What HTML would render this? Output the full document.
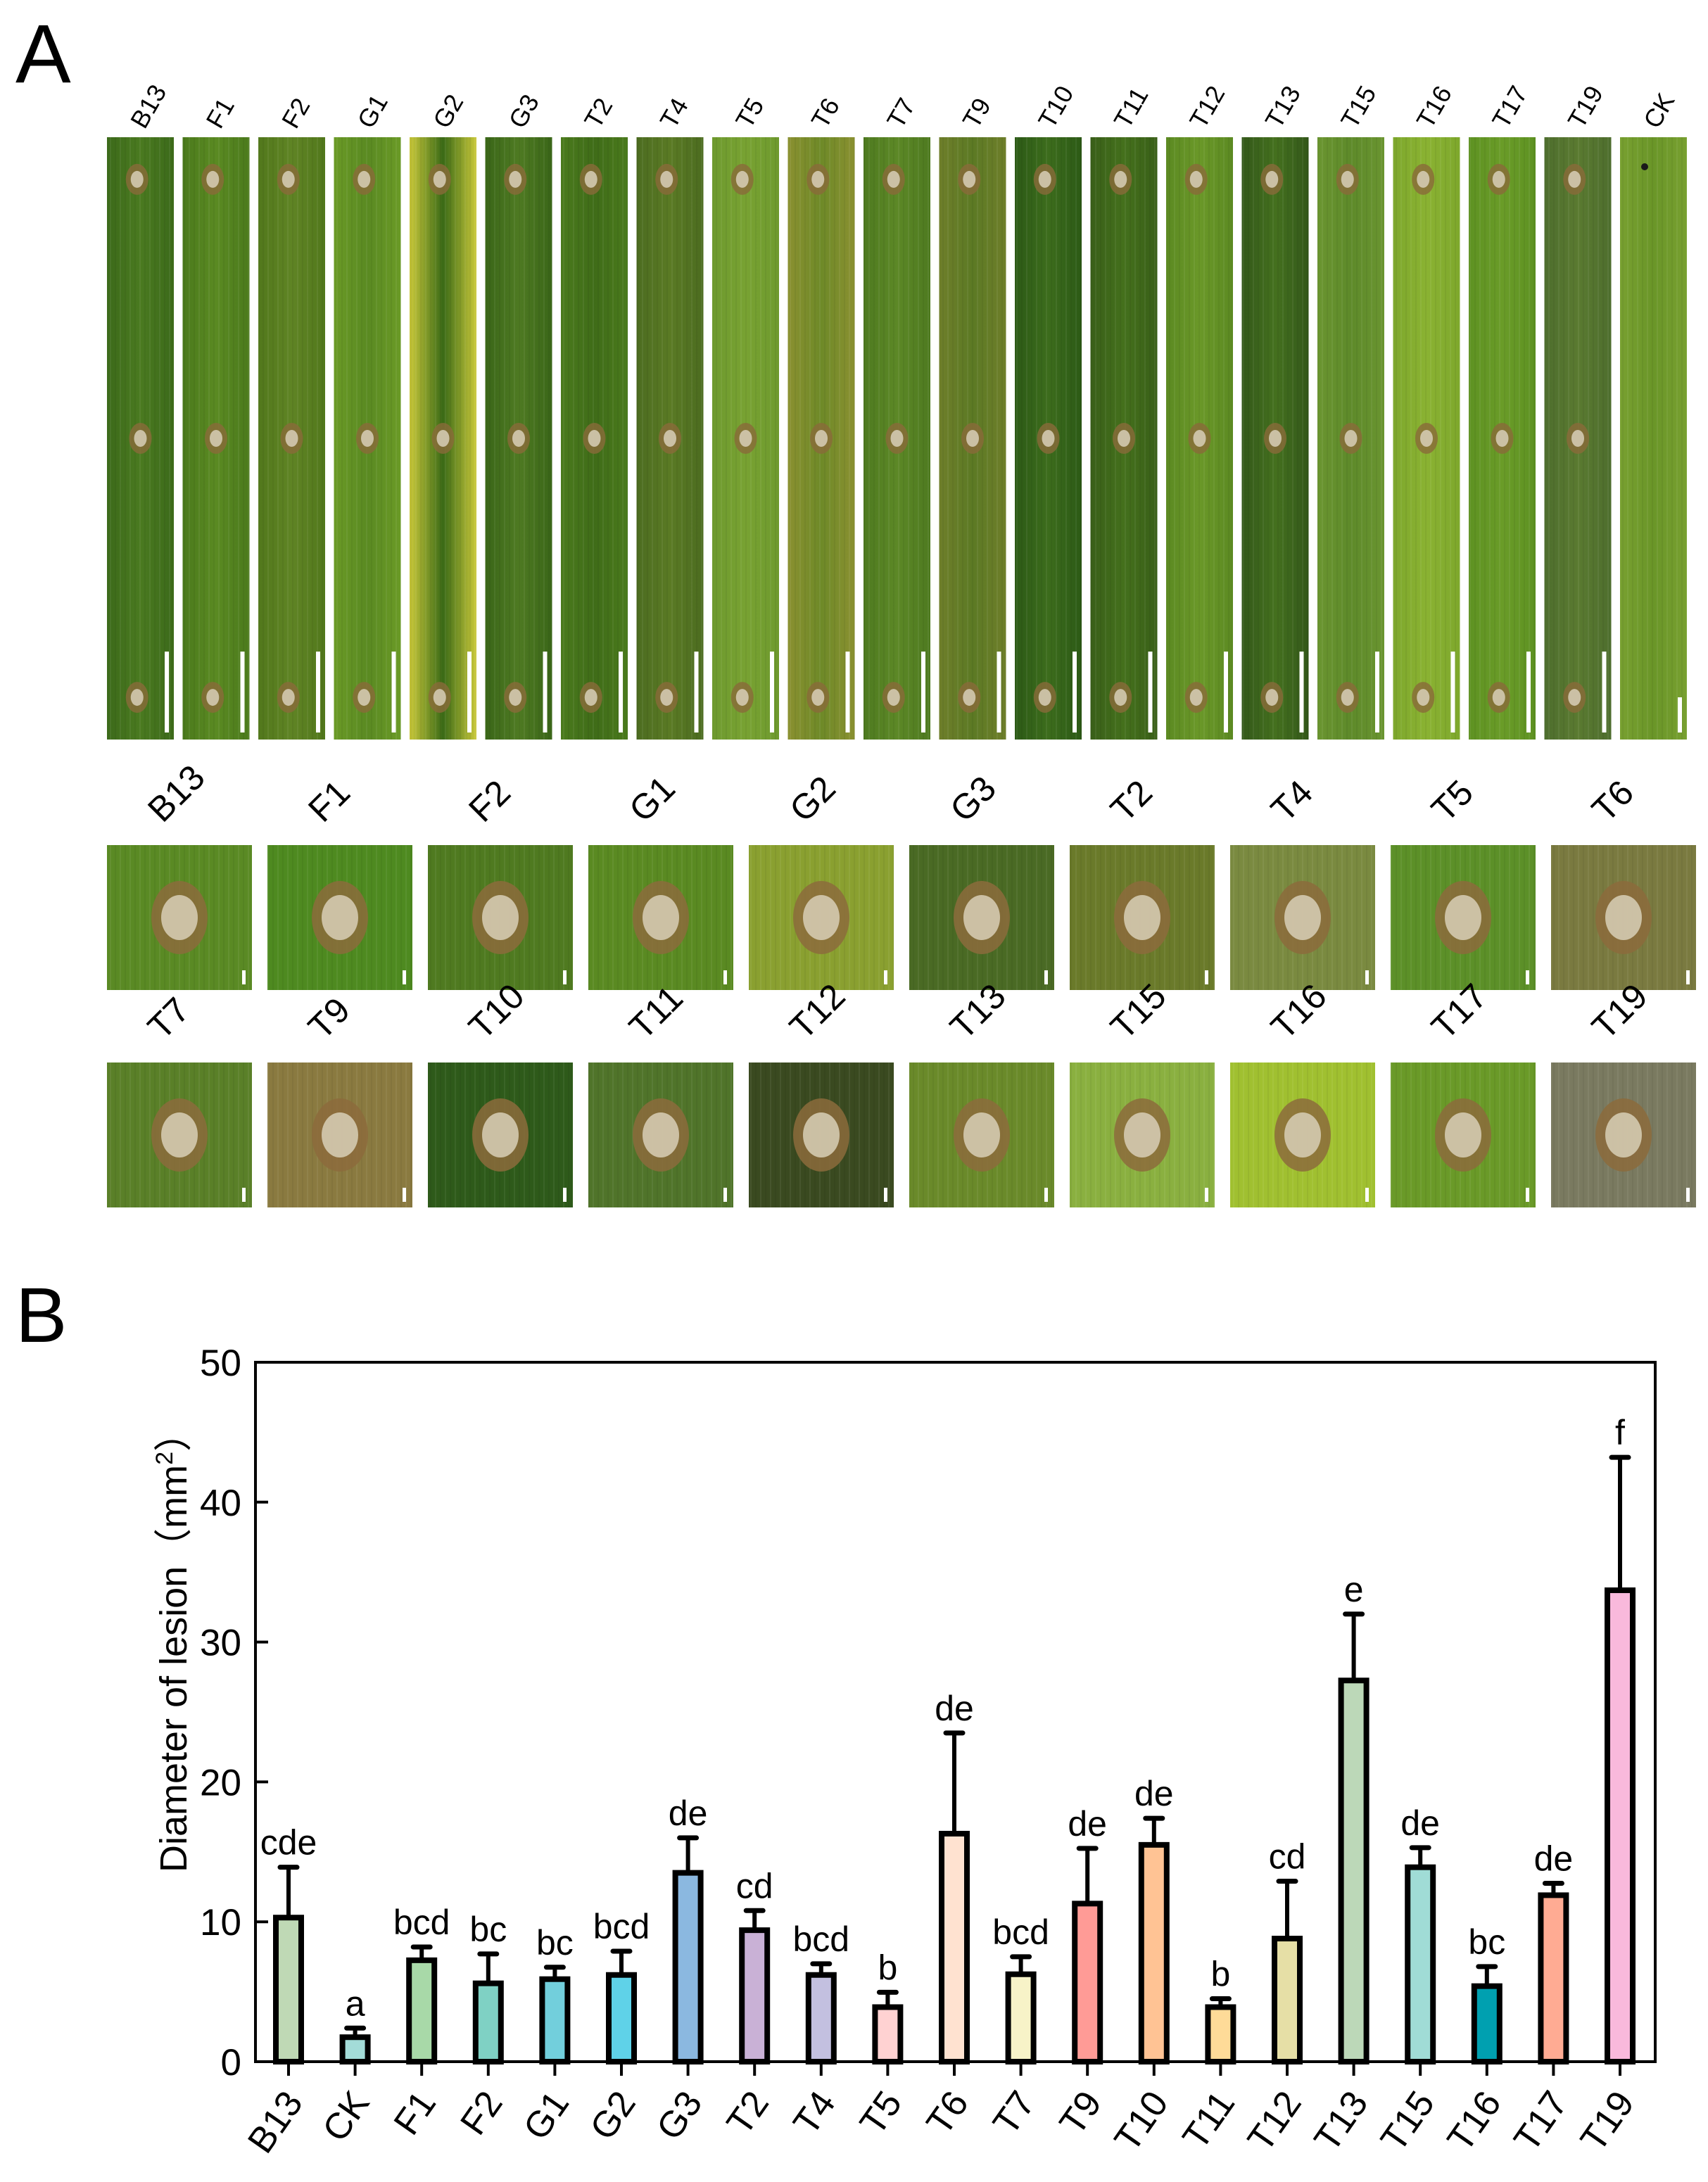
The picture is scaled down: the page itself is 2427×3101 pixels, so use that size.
<!DOCTYPE html>
<html><head><meta charset="utf-8"><style>
html,body{margin:0;padding:0;background:#fff}
svg{display:block}
text{font-family:"Liberation Sans",Arial,sans-serif;fill:#000}
</style></head><body>
<svg id="fig" width="2427" height="3101" viewBox="0 0 2427 3101" xmlns="http://www.w3.org/2000/svg">
<defs>
<pattern id="veins" width="14" height="10" patternUnits="userSpaceOnUse"><rect width="14" height="10" fill="none"/><line x1="3" y1="0" x2="3" y2="10" stroke="#ffffff" stroke-opacity="0.06" stroke-width="2"/><line x1="10" y1="0" x2="10" y2="10" stroke="#000" stroke-opacity="0.05" stroke-width="2"/></pattern>
</defs>
<text x="22" y="117" font-size="118">A</text>
<text x="22" y="1907" font-size="110">B</text>
<g id="stripsG"></g>
<g id="squaresG"></g>
<g id="chartG"></g>
</svg>
<script>
// ---- chart data ----
const categories = ["B13","CK","F1","F2","G1","G2","G3","T2","T4","T5","T6","T7","T9","T10","T11","T12","T13","T15","T16","T17","T19"];
const means = [10.3,1.75,7.25,5.6,5.9,6.2,13.5,9.4,6.2,3.9,16.3,6.25,11.3,15.5,3.9,8.8,27.25,13.9,5.4,11.9,33.7];
const errTops = [13.9,2.4,8.2,7.7,6.75,7.9,16.0,10.8,7.0,4.96,23.5,7.5,15.25,17.4,4.5,12.9,32.0,15.3,6.8,12.75,43.2];
const sigLetters = ["cde","a","bcd","bc","bc","bcd","de","cd","bcd","b","de","bcd","de","de","b","cd","e","de","bc","de","f"];
const yTicks = [0,10,20,30,40,50];
const barColors = ["#bfd9b5","#a3dcd8","#a8d9a8","#7fd1c4","#72cfdc","#5fd2e8","#8bb8e0","#c9b1d6","#c3c0e0","#ffd2d2","#ffe2d0","#f7f3c8","#ff9b96","#ffc394","#fedb98","#e6dfa6","#bcd8b8","#a0dcd6","#00a0b0","#ffab93","#f9b9dc"];
// photo panel labels
const stripLabels = ["B13","F1","F2","G1","G2","G3","T2","T4","T5","T6","T7","T9","T10","T11","T12","T13","T15","T16","T17","T19","CK"];
const squareLabels = ["B13","F1","F2","G1","G2","G3","T2","T4","T5","T6","T7","T9","T10","T11","T12","T13","T15","T16","T17","T19"];

const NS="http://www.w3.org/2000/svg";
function mk(tag,attrs,parent){const e=document.createElementNS(NS,tag);for(const k in attrs)e.setAttribute(k,attrs[k]);parent.appendChild(e);return e;}

// ---- strips ----
const stripCols=[["#3c6a1a","#4a7a20"],["#4b7a1c","#5a8a22"],["#52781c","#5f8424"],["#6a9a26","#5a8a22"],["#c9c83a","#3a6a16"],["#3a6618","#4e7a22"],["#4a7a1c","#3f6c18"],["#4c6c20","#5a7a24"],["#6e9a2e","#78a232"],["#8a9030","#6e8a28"],["#4e7a20","#5c8826"],["#6e7e2a","#5c7a24"],["#2c5a16","#3c6c1c"],["#395f18","#44701c"],["#5c8a22","#6a9828"],["#33581a","#44701e"],["#6a9530","#5e8a2a"],["#7ea82c","#8ab232"],["#5e9222","#6a9c28"],["#4e6e2e","#5a7a30"],["#78a030","#6a9628"]];
const sg=document.getElementById('stripsG');
stripLabels.forEach((lab,i)=>{
  const x=152+i*107.5, y=195, w=95, h=856;
  const g=mk('g',{},sg);
  
  
  const gid='sg'+i;
  const lg=mk('linearGradient',{id:gid,x1:0,y1:0,x2:1,y2:0},g);
  mk('stop',{offset:'0',"stop-color":stripCols[i][0]},lg);
  mk('stop',{offset:'0.5',"stop-color":stripCols[i][1]},lg);
  mk('stop',{offset:'1',"stop-color":stripCols[i][0]},lg);
  mk('rect',{x:x,y:y,width:w,height:h,fill:'url(#'+gid+')'},g);
  mk('rect',{x:x,y:y,width:w,height:h,fill:'url(#veins)'},g);
  if(lab!=="CK"){
    [[0.45,0.07],[0.5,0.5],[0.45,0.93]].forEach(p=>{
      mk('ellipse',{cx:x+w*p[0],cy:y+h*p[1],rx:16,ry:22,fill:'#8a6a3a',opacity:0.8},g);
      mk('ellipse',{cx:x+w*p[0],cy:y+h*p[1],rx:9,ry:12,fill:'#d8cfb8',opacity:0.85},g);
    });
  } else {
    mk('circle',{cx:x+35,cy:y+42,r:5,fill:'#1a1a1a'},g);
  }
  mk('rect',{x:x+w-13,y:y+h-(lab==="CK"?60:125),width:6,height:(lab==="CK"?50:115),fill:'#fff'},g);
  const t=mk('text',{x:0,y:0,"font-size":36,transform:`translate(${x+w/2+6},${y-10}) rotate(-60)`},sg);
  
  
  t.textContent=lab;
});

// ---- squares ----
const sqBg=["#5a8a24","#4e8a20","#4f7a20","#5a8a22","#8aa030","#4a6a24","#6a7a2a","#7a8a40","#5c9028","#7a7a40","#5a8028","#8a7a40","#2e5a1a","#50742a","#3a4a20","#6a8a2a","#8ab040","#a0c030","#6a9a28","#7a7a60"];
const sqq=document.getElementById('squaresG');
squareLabels.forEach((lab,i)=>{
  const col=i%10,row=Math.floor(i/10);
  const x=152+col*228, y=row?1510:1201, w=206, h=206;
  const g=mk('g',{},sqq);
  
  
  mk('rect',{x:x,y:y,width:w,height:h,fill:sqBg[i]},g);
  mk('rect',{x:x,y:y,width:w,height:h,fill:'url(#veins)'},g);
  mk('ellipse',{cx:x+w/2,cy:y+h/2,rx:40,ry:52,fill:'#8c6b3c',opacity:0.85},g);
  mk('ellipse',{cx:x+w/2,cy:y+h/2,rx:26,ry:32,fill:'#d4cab0',opacity:0.9},g);
  mk('rect',{x:x+w-14,y:y+h-28,width:5,height:20,fill:'#fff'},g);
  const t=mk('text',{x:0,y:0,"font-size":50,transform:`translate(${x+w/2-24},${y-30}) rotate(-45)`},sqq);
  
  
  t.textContent=lab;
});

// ---- chart ----
const cg=document.getElementById('chartG');
const X0=363,X1=2352,Y0=2930,Y1=1936,ymax=50;
const yS=v=>Y0-(Y0-Y1)*v/ymax;
const xS=i=>410+i*94.6;
const frame=mk('rect',{x:X0,y:Y1,width:X1-X0,height:Y0-Y1,fill:'none',stroke:'#000',"stroke-width":4},cg);


yTicks.forEach(v=>{
  const l=mk('line',{x1:X0,x2:X0+18,y1:yS(v),y2:yS(v),stroke:'#000',"stroke-width":4},cg);
  
  
  const t=mk('text',{x:X0-20,y:yS(v)+19,"font-size":53,"text-anchor":"end"},cg);
  
  
  t.textContent=v;
});
const yt=mk('text',{x:0,y:0,"font-size":54,"text-anchor":"middle",transform:`translate(265,2335) rotate(-90)`},cg);


yt.innerHTML='Diameter of lesion（mm<tspan dy="-20" font-size="34">2</tspan><tspan dy="20">）</tspan>';
categories.forEach((c,i)=>{
  const cx=xS(i), bw=36;
  const eb=mk('g',{},cg);
  
  
  mk('line',{x1:cx,x2:cx,y1:yS(means[i]),y2:yS(errTops[i]),stroke:'#000',"stroke-width":6},eb);
  mk('line',{x1:cx-12,x2:cx+12,y1:yS(errTops[i]),y2:yS(errTops[i]),stroke:'#000',"stroke-width":7,"stroke-linecap":"round"},eb);
  const b=mk('rect',{x:cx-bw/2,y:yS(means[i]),width:bw,height:Y0-yS(means[i]),fill:barColors[i],stroke:'#000',"stroke-width":8},cg);
  
  
  const s=mk('text',{x:cx,y:yS(errTops[i])-18,"font-size":50,"text-anchor":"middle"},cg);
  
  
  s.textContent=sigLetters[i];
  const tk=mk('line',{x1:cx,x2:cx,y1:Y0,y2:Y0+20,stroke:'#000',"stroke-width":4},cg);
  
  
  const xl=mk('text',{x:0,y:0,"font-size":52,"text-anchor":"end",transform:`translate(${cx+22},${Y0+58}) rotate(-55)`},cg);
  
  
  xl.textContent=c;
});
</script>
</body></html>
